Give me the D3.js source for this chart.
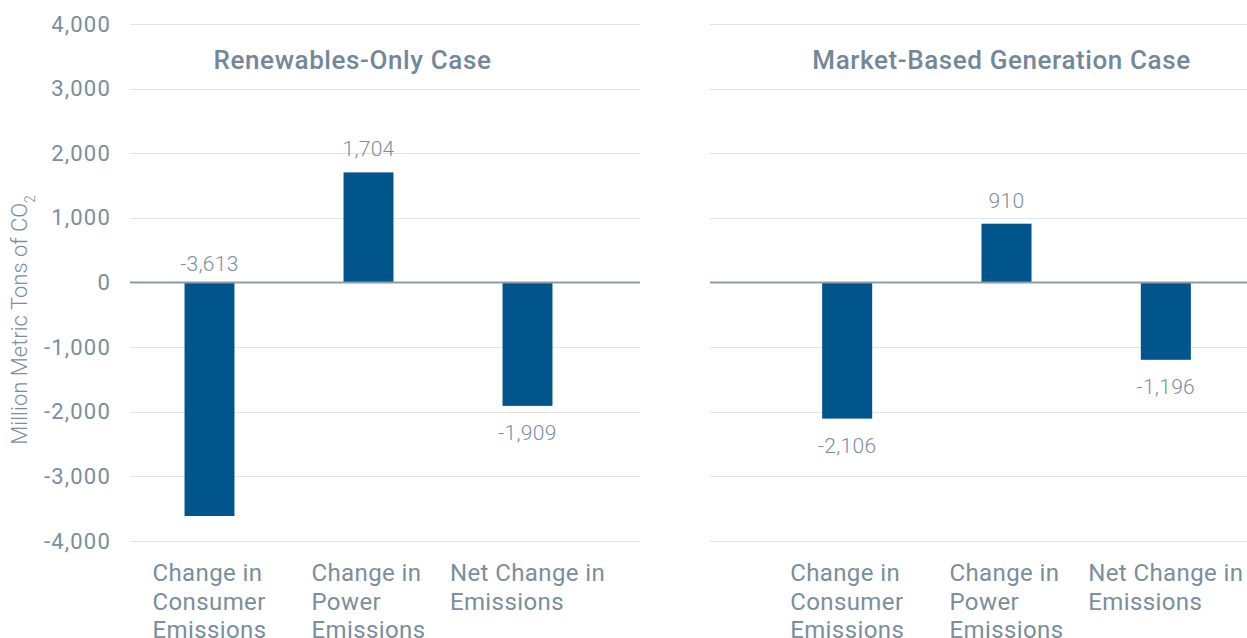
<!DOCTYPE html>
<html>
<head>
<meta charset="utf-8">
<script src="https://cdn.jsdelivr.net/npm/d3@7"></script>
<style>
  body { margin: 0; background: #fff; }
  text { font-family: Roboto, "Noto Sans", sans-serif; }
</style>
</head>
<body>
<div id="vis"></div>
<script>
// data
var categories = ['Change in|Consumer|Emissions', 'Change in|Power|Emissions', 'Net Change in|Emissions'];
var panelTitles = ['Renewables-Only Case', 'Market-Based Generation Case'];
var renewablesOnly = [-3613, 1704, -1909];
var marketBased = [-2106, 910, -1196];
var yTicks = [-4000, -3000, -2000, -1000, 0, 1000, 2000, 3000, 4000];

var width = 1247;
var height = 638;

var textColor = '#7a8e9b';
var titleColor = '#72889a';
var barColor = '#00558c';

var svg = d3.select('#vis')
  .append('svg')
  .attr('width', width)
  .attr('height', height);

var y = d3.scaleLinear()
  .domain([-4000, 4000])
  .range([541, 24]);

var panels = [
  { title: panelTitles[0], values: renewablesOnly, gridX: [130, 640], bandX: [130, 607], showAxis: true },
  { title: panelTitles[1], values: marketBased, gridX: [710, 1247], bandX: [767.5, 1245.5], showAxis: false }
];

// plain hyphen for negatives, like the original
var fmt = function (d) { return d3.format(',')(d).replace('\u2212', '-'); };

panels.forEach(function (p) {
  var g = svg.append('g');

  var x = d3.scaleBand()
    .domain(categories)
    .range(p.bandX)
    .paddingInner(0.686)
    .paddingOuter(0.343);

  // gridlines
  g.selectAll('.grid')
    .data(yTicks.filter(function (d) { return d !== 0; }))
    .enter().append('line')
    .attr('x1', p.gridX[0])
    .attr('x2', p.gridX[1])
    .attr('y1', function (d) { return Math.round(y(d)) + 0.5; })
    .attr('y2', function (d) { return Math.round(y(d)) + 0.5; })
    .attr('stroke', '#e3e3e3')
    .attr('stroke-width', 1);

  if (p.showAxis) {
    var axis = d3.axisLeft(y)
      .tickValues(yTicks)
      .tickSize(0)
      .tickPadding(0)
      .tickFormat(fmt);
    var ax = g.append('g')
      .attr('transform', 'translate(111,0)')
      .call(axis);
    ax.select('.domain').remove();
    ax.selectAll('text')
      .attr('fill', textColor)
      .style('font-size', '22px')
      .style('letter-spacing', '1.2px');
  }

  // bars
  g.selectAll('.bar')
    .data(p.values)
    .enter().append('rect')
    .attr('x', function (d, i) { return x(categories[i]); })
    .attr('width', x.bandwidth())
    .attr('y', function (d) { return y(Math.max(0, d)); })
    .attr('height', function (d) { return Math.abs(y(d) - y(0)); })
    .attr('fill', barColor);

  // zero line
  g.append('line')
    .attr('x1', p.gridX[0])
    .attr('x2', p.gridX[1])
    .attr('y1', y(0))
    .attr('y2', y(0))
    .attr('stroke', '#8a9da9')
    .attr('stroke-width', 2);

  // value labels
  g.selectAll('.val')
    .data(p.values)
    .enter().append('text')
    .attr('x', function (d, i) { return x(categories[i]) + x.bandwidth() / 2; })
    .attr('y', function (d) {
      if (d >= 0) return y(d) - 16;
      var below = y(d) + 34;
      if (below > y(-4000) - 5) return y(0) - 12;
      return below;
    })
    .attr('text-anchor', 'middle')
    .attr('fill', textColor)
    .style('font-size', '21px')
    .style('font-weight', 300)
    .style('letter-spacing', '0.3px')
    .text(function (d) { return fmt(d); });

  // category labels: block of left-aligned lines, centred under the bar
  g.selectAll('.cat')
    .data(categories)
    .enter().append('text')
    .attr('y', 581)
    .attr('fill', textColor)
    .style('font-size', '24px')
    .style('letter-spacing', '0.4px')
    .each(function (d) {
      var t = d3.select(this);
      var lines = d.split('|');
      lines.forEach(function (line, i) {
        t.append('tspan')
          .attr('dy', i === 0 ? 0 : 28.5)
          .text(line);
      });
      var maxW = 0;
      t.selectAll('tspan').each(function () {
        maxW = Math.max(maxW, this.getComputedTextLength());
      });
      var left = x(d) + x.bandwidth() / 2 - maxW / 2;
      t.selectAll('tspan').attr('x', left);
    });

  // panel title
  g.append('text')
    .attr('x', (x.range()[0] + x.range()[1]) / 2 + (p.showAxis ? -16 : -5))
    .attr('y', 69)
    .attr('text-anchor', 'middle')
    .attr('fill', titleColor)
    .style('font-size', '26px')
    .style('font-weight', 500)
    .style('letter-spacing', '0.6px')
    .text(p.title);
});

// y axis title
var yt = svg.append('text')
  .attr('transform', 'translate(27,320) rotate(-90)')
  .attr('text-anchor', 'middle')
  .attr('fill', textColor)
  .style('font-size', '22px')
  .style('font-weight', 300);
yt.append('tspan').text('Million Metric Tons of CO');
yt.append('tspan')
  .attr('baseline-shift', 'sub')
  .style('font-size', '14px')
  .text('2');
</script>
</body>
</html>
